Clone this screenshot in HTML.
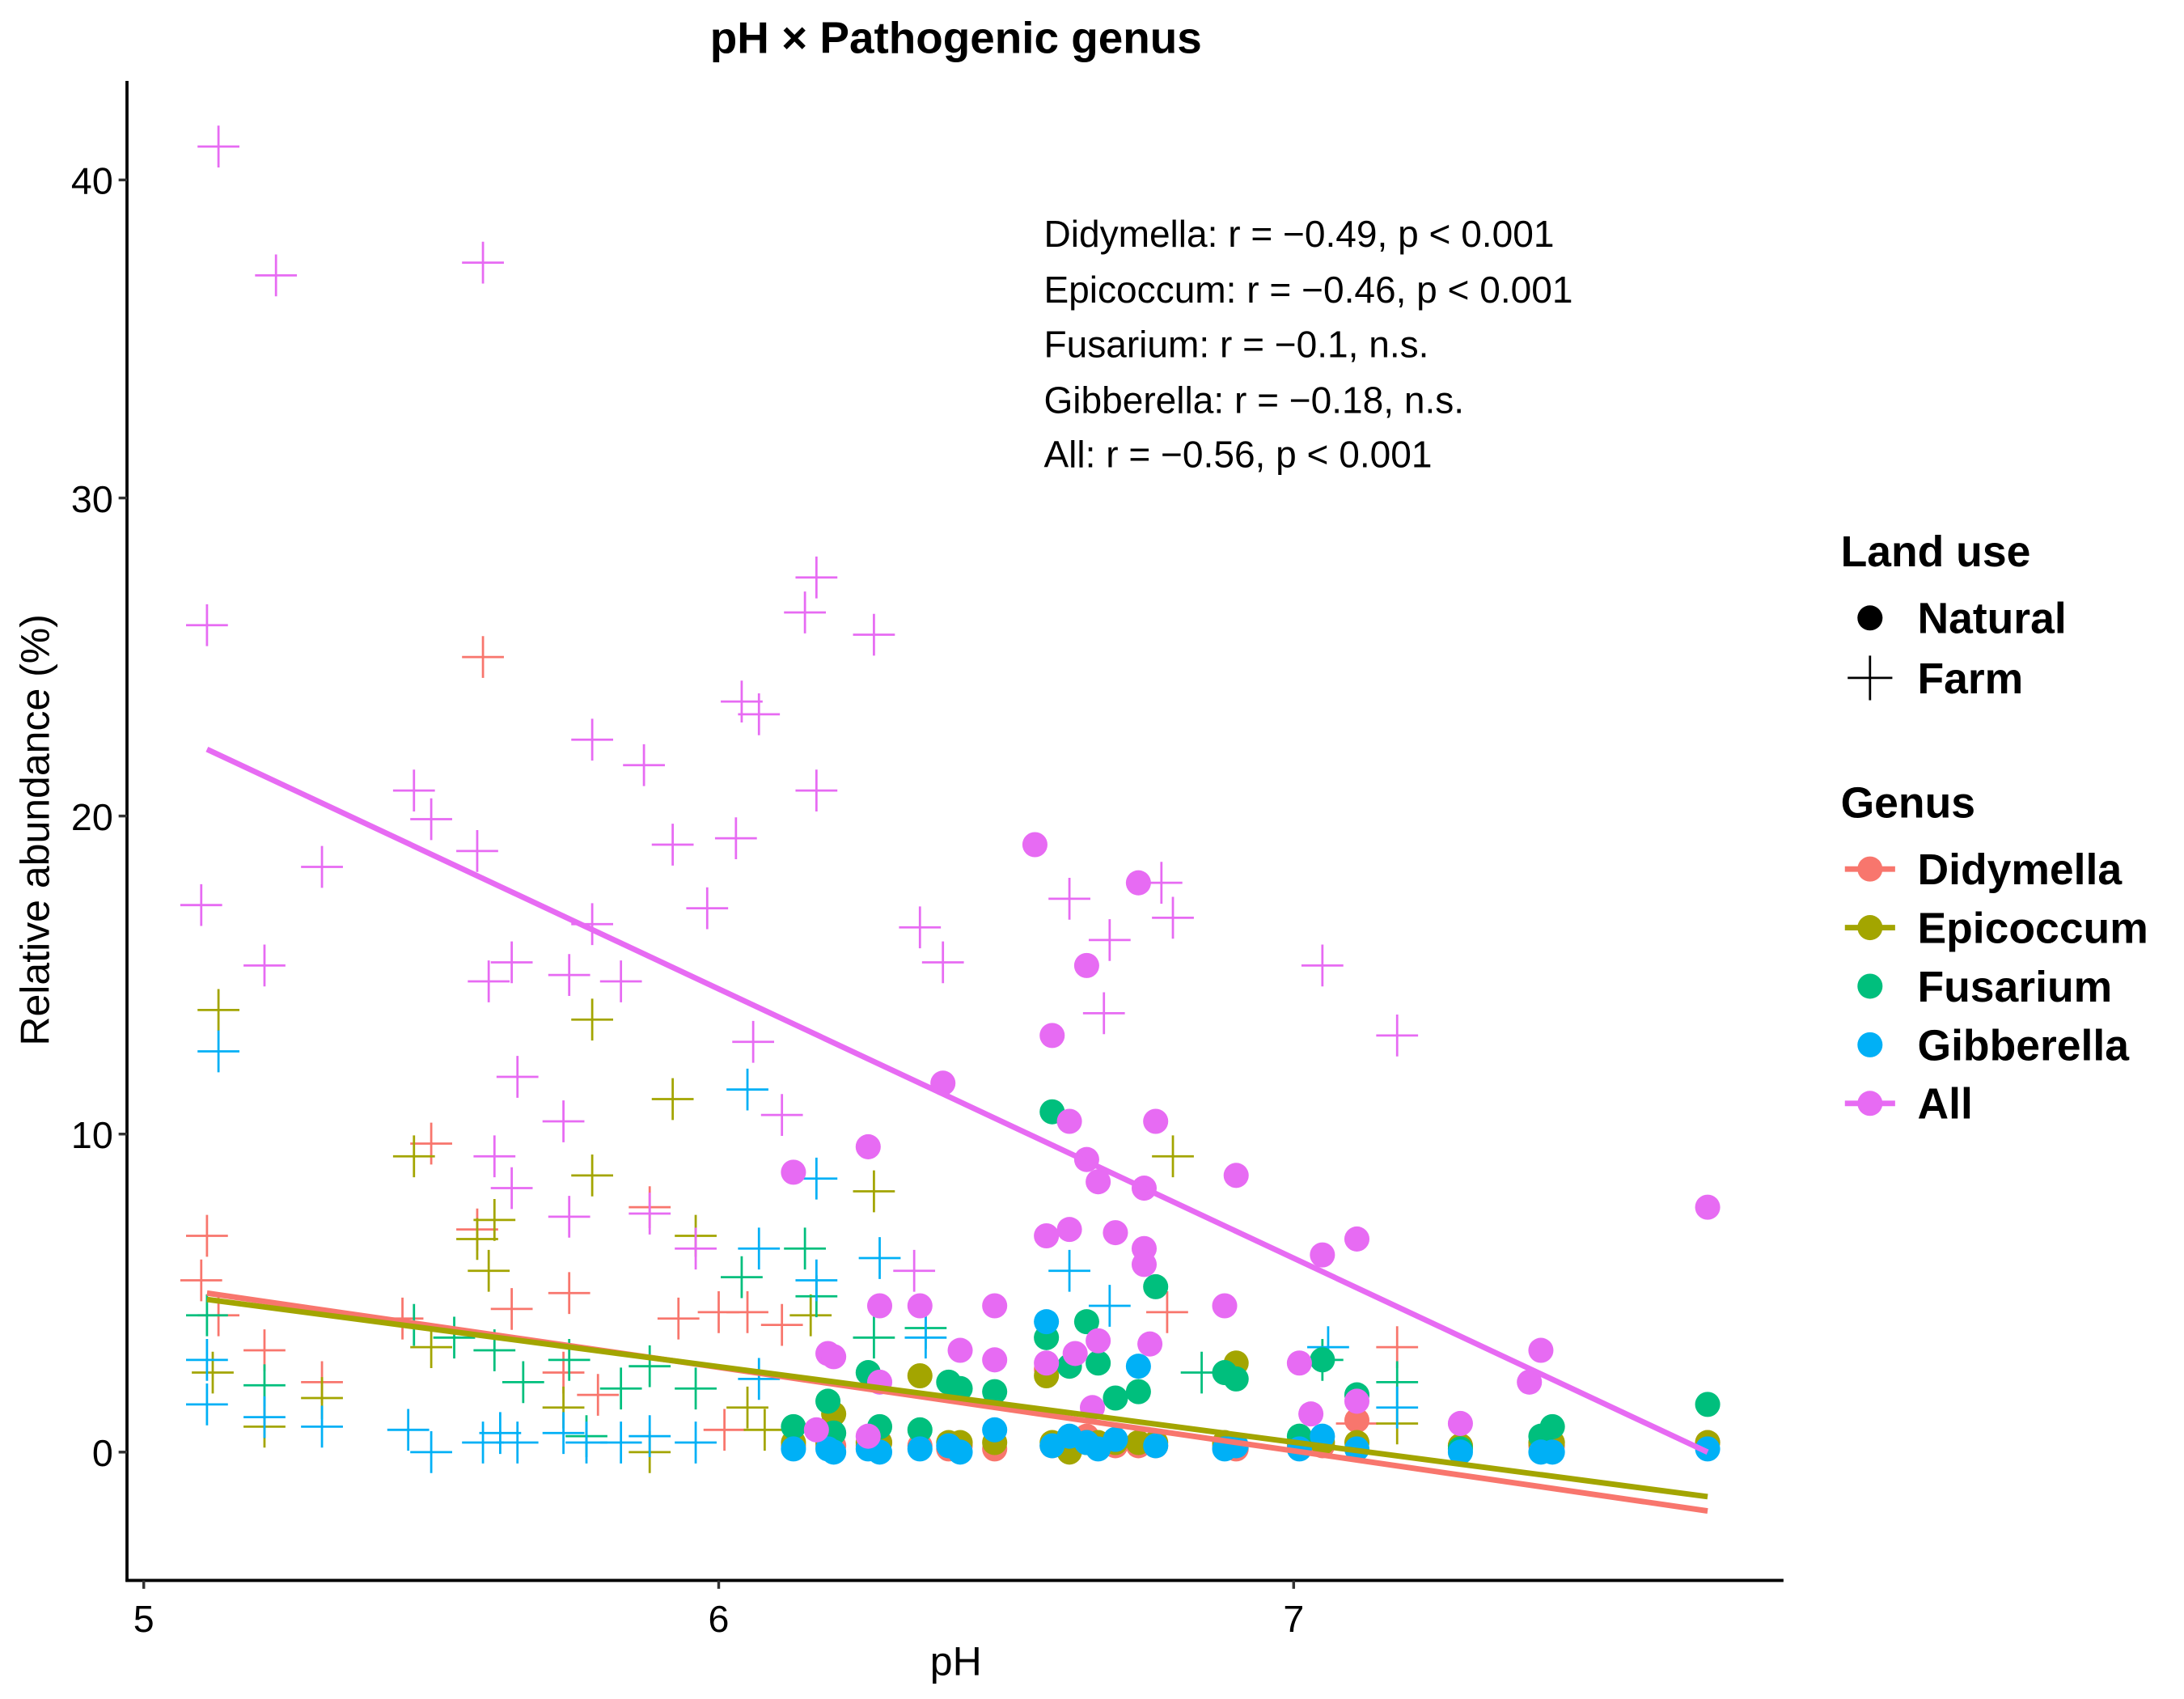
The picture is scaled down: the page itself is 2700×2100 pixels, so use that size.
<!DOCTYPE html>
<html><head><meta charset="utf-8"><style>html,body{margin:0;padding:0;background:#fff}svg{display:block}</style></head>
<body>
<svg id="chart" width="2700" height="2100" viewBox="0 0 1565 1218" preserveAspectRatio="none" xmlns="http://www.w3.org/2000/svg" font-family="Liberation Sans, sans-serif">
<rect width="1565" height="1218" fill="#fff"/>
<text x="685" y="38" font-size="31.8" font-weight="bold" text-anchor="middle">pH × Pathogenic genus</text>
<g id="plot"></g>
<g font-size="26.7">
<text x="748" y="177">Didymella: r = −0.49, p &lt; 0.001</text>
<text x="748" y="217">Epicoccum: r = −0.46, p &lt; 0.001</text>
<text x="748" y="256">Fusarium: r = −0.1, n.s.</text>
<text x="748" y="296">Gibberella: r = −0.18, n.s.</text>
<text x="748" y="335">All: r = −0.56, p &lt; 0.001</text>
</g>
<text x="685" y="1201" font-size="29" text-anchor="middle">pH</text>
<text transform="translate(35,595) rotate(-90)" font-size="29" text-anchor="middle">Relative abundance (%)</text>
<g font-weight="bold" font-size="31">
<text x="1319" y="406">Land use</text>
<g><circle cx="1340" cy="443" r="9"/><text x="1374" y="454">Natural</text></g>
<g><path d="M1324 486H1356M1340 470V502" stroke="#000" stroke-width="1.6"/><text x="1374" y="497">Farm</text></g>
<text x="1319" y="586">Genus</text>
<g><path d="M1322 623H1358" stroke="#F8766D" stroke-width="4"/><circle cx="1340" cy="623" r="9" fill="#F8766D"/><text x="1374" y="634">Didymella</text></g>
<g><path d="M1322 665H1358" stroke="#A3A500" stroke-width="4"/><circle cx="1340" cy="665" r="9" fill="#A3A500"/><text x="1374" y="676">Epicoccum</text></g>
<g><circle cx="1340" cy="707" r="9" fill="#00BF7D"/><text x="1374" y="718">Fusarium</text></g>
<g><circle cx="1340" cy="749" r="9" fill="#00B0F6"/><text x="1374" y="760">Gibberella</text></g>
<g><path d="M1322 791H1358" stroke="#E76BF3" stroke-width="4"/><circle cx="1340" cy="791" r="9" fill="#E76BF3"/><text x="1374" y="802">All</text></g>
</g>
</svg>
<script>
const xTicks=[5,6,7];
const yTicks=[0,10,20,30,40];
const colors={Didymella:"#F8766D",Epicoccum:"#A3A500",Fusarium:"#00BF7D",Gibberella:"#00B0F6",All:"#E76BF3"};
const natPH=[6.13,6.19,6.20,6.26,6.28,6.35,6.40,6.42,6.48,6.57,6.58,6.61,6.64,6.66,6.69,6.73,6.76,6.88,6.90,7.01,7.05,7.11,7.29,7.43,7.45,7.72];
const natDidymella=[0.2,0.2,0.2,0.2,0.3,0.2,0.1,0.2,0.1,2.6,0.2,0.2,0.5,0.2,0.2,0.2,0.2,0.2,0.1,0.2,0.2,1.0,0.2,0.2,0.2,0.3];
const natEpicoccum=[0.3,0.3,1.2,0.3,0.3,2.4,0.3,0.3,0.3,2.4,0.3,0.0,0.3,0.3,0.3,0.3,0.3,0.3,2.8,0.3,0.3,0.3,0.2,0.3,0.3,0.3];
const natFusarium=[0.8,1.6,0.6,2.5,0.8,0.7,2.2,2.0,1.9,3.6,10.7,2.7,4.1,2.8,1.7,1.9,5.2,2.5,2.3,0.5,2.9,1.8,0.1,0.5,0.8,1.5];
const natGibberella=[0.1,0.1,0.0,0.1,0.0,0.1,0.2,0.0,0.7,4.1,0.2,0.5,0.3,0.1,0.4,2.7,0.2,0.1,0.2,0.1,0.5,0.1,0.0,0.0,0.0,0.1];
const natAllPH=[6.55,6.73,6.64,6.58,6.39,6.61,6.76,6.64,6.66,6.74,6.90,6.13,6.26,7.72,6.57,6.61,6.69,6.74,6.74,7.05,7.11,6.28,6.35,6.48,6.88,6.75,6.19,6.20,6.42,6.48,7.01,7.43,7.41,6.66,6.62,6.28,6.57,7.29,7.03,7.11,6.17,6.26,6.65];
const natAllVal=[19.1,17.9,15.3,13.1,11.6,10.4,10.4,9.2,8.5,8.3,8.7,8.8,9.6,7.7,6.8,7.0,6.9,6.4,5.9,6.2,6.7,4.6,4.6,4.6,4.6,3.4,3.1,3.0,3.2,2.9,2.8,3.2,2.2,3.5,3.1,2.2,2.8,0.9,1.2,1.6,0.7,0.5,1.4];
const farmAllPH=[5.13,5.23,5.59,5.11,6.17,6.15,6.27,6.04,6.07,5.78,5.47,5.50,5.87,6.17,5.31,5.58,6.03,5.92,5.10,5.21,5.98,5.78,5.60,5.64,5.74,5.83,6.35,6.39,5.65,5.73,6.06,6.11,5.61,5.64,5.74,5.88,5.96,6.34,6.61,6.68,6.67,6.77,6.79,7.05,7.18];
const farmAllVal=[41.05,37.0,37.4,26.0,27.5,26.4,25.7,23.6,23.2,22.4,20.8,19.9,21.6,20.8,18.4,18.9,19.3,19.1,17.2,15.3,17.1,16.6,14.8,15.4,15.0,14.8,16.5,15.4,11.8,10.4,12.9,10.6,9.3,8.3,7.4,7.5,6.4,5.7,17.4,16.1,13.8,17.9,16.8,15.3,13.1];
const farmDidymellaPH=[5.11,5.10,5.13,5.59,5.50,5.58,5.74,5.88,5.21,5.31,5.64,5.93,6.00,6.05,5.73,6.11,6.78,7.18,7.11,5.79,6.01,5.45];
const farmDidymellaVal=[6.8,5.4,4.3,25.0,9.7,7.0,5.0,7.7,3.2,2.2,4.5,4.2,4.4,4.4,2.5,4.0,4.4,3.3,0.9,1.8,0.7,4.2];
const farmEpicoccumPH=[5.13,5.78,5.92,5.47,5.78,6.27,6.79,5.61,5.58,5.60,5.96,5.12,5.21,5.31,5.50,5.73,5.88,6.08,6.05,7.18,6.16];
const farmEpicoccumVal=[13.9,13.6,11.1,9.3,8.7,8.2,9.3,7.3,6.7,5.7,6.8,2.5,0.8,1.7,3.3,1.4,0.0,0.7,1.4,0.9,4.3];
const farmFusariumPH=[5.11,5.21,5.47,5.54,5.61,5.66,5.74,5.83,5.88,5.96,6.04,6.15,6.17,6.27,6.36,7.05,7.18,5.77,6.84];
const farmFusariumVal=[4.3,2.1,4.0,3.6,3.2,2.2,2.9,2.0,2.7,2.0,5.5,6.4,4.9,3.6,3.9,2.9,2.2,0.5,2.5];
const farmGibberellaPH=[5.13,6.05,6.17,6.28,6.07,5.11,5.11,5.21,5.31,5.46,5.50,5.59,5.62,5.65,5.73,5.77,5.83,5.88,5.96,6.07,6.17,6.36,6.61,6.68,7.18,7.06];
const farmGibberellaVal=[12.6,11.4,8.6,6.1,6.4,2.9,1.5,1.1,0.8,0.7,0.0,0.3,0.6,0.3,0.6,0.3,0.3,0.5,0.3,2.3,5.4,3.6,5.7,4.6,1.4,3.3];
const fitGenus=["All","Didymella","Epicoccum"];
const fitStart=[22.1,5.0,4.8];
const fitEnd=[0.0,-1.85,-1.4];
const fitRangePH=[5.11,7.72];

const NS="http://www.w3.org/2000/svg";
const X0=91,X1=1278,Y0=58,Y1=1133;
function sx(v){return 103+(v-5)*412;}
function sy(v){return 1041-v*22.8;}
const plot=document.getElementById('plot');
function mk(tag,attrs,parent){const e=document.createElementNS(NS,tag);for(const k in attrs)e.setAttribute(k,attrs[k]);(parent||plot).appendChild(e);return e;}
function cross(x,y,c,name){const p=mk('path',{d:`M${sx(x)-15} ${sy(y)}H${sx(x)+15}M${sx(x)} ${sy(y)-15}V${sy(y)+15}`,stroke:c,'stroke-width':1.6,fill:'none'});

}
function dot(x,y,c,name){const p=mk('circle',{cx:sx(x),cy:sy(y),r:9,fill:c});

}
[["Didymella",farmDidymellaPH,farmDidymellaVal],["Epicoccum",farmEpicoccumPH,farmEpicoccumVal],["Fusarium",farmFusariumPH,farmFusariumVal],["Gibberella",farmGibberellaPH,farmGibberellaVal],["All",farmAllPH,farmAllVal]].forEach(([g,xs,ys])=>{xs.forEach((x,i)=>cross(x,ys[i],colors[g],'farm-point-'+g.toLowerCase()));});
[["Didymella",natDidymella],["Epicoccum",natEpicoccum],["Fusarium",natFusarium],["Gibberella",natGibberella]].forEach(([g,ys])=>{natPH.forEach((x,i)=>dot(x,ys[i],colors[g],'natural-point-'+g.toLowerCase()));});
natAllPH.forEach((x,i)=>dot(x,natAllVal[i],colors.All,'natural-point-all'));
fitGenus.forEach((g,i)=>{const l=mk('line',{x1:sx(fitRangePH[0]),y1:sy(fitStart[i]),x2:sx(fitRangePH[1]),y2:sy(fitEnd[i]),stroke:colors[g],'stroke-width':4});

});
const ya=mk('line',{x1:X0,y1:Y0,x2:X0,y2:Y1+1,stroke:'#000','stroke-width':2.2});


const xa=mk('line',{x1:X0-1,y1:Y1,x2:X1,y2:Y1,stroke:'#000','stroke-width':2.2});


yTicks.forEach(v=>{mk('line',{x1:X0-6,y1:sy(v),x2:X0,y2:sy(v),stroke:'#333','stroke-width':2});
const t=mk('text',{x:X0-10,y:sy(v)+10,'font-size':27,'text-anchor':'end'});t.textContent=v;

});
xTicks.forEach(v=>{mk('line',{x1:sx(v),y1:Y1,x2:sx(v),y2:Y1+6,stroke:'#333','stroke-width':2});
const t=mk('text',{x:sx(v),y:Y1+37,'font-size':27,'text-anchor':'middle'});t.textContent=v;

});
</script>
</body></html>
